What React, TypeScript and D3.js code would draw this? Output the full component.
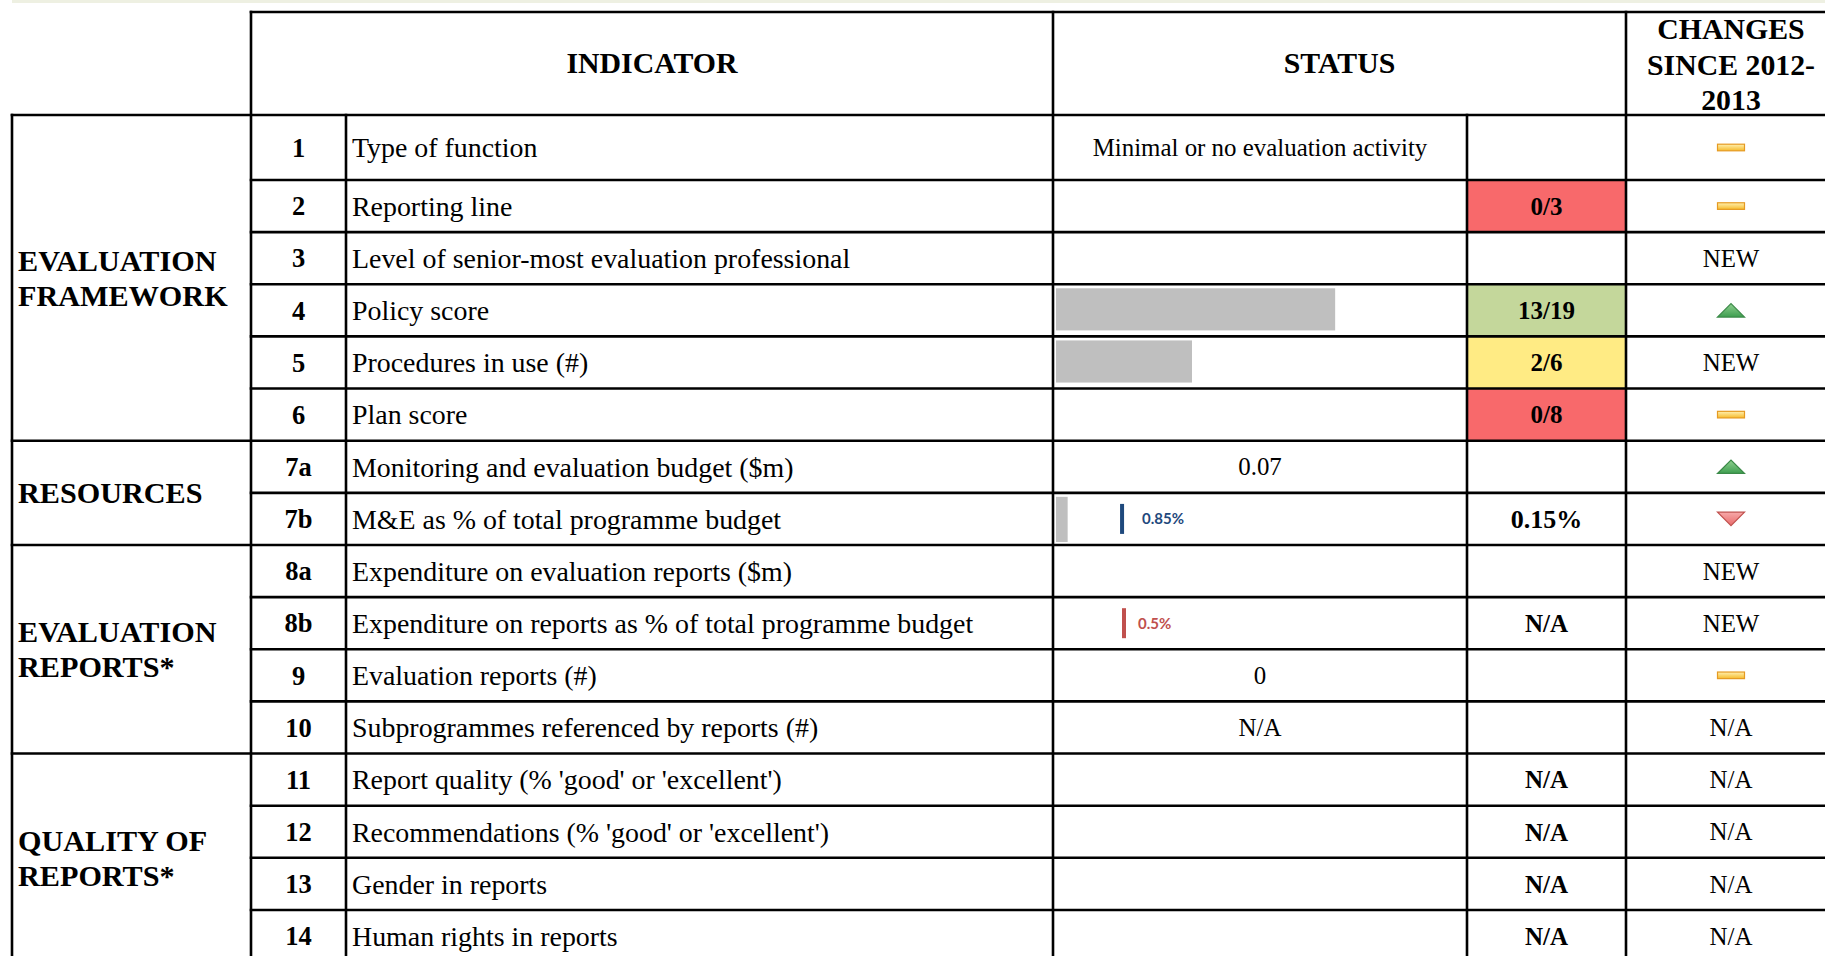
import React from "react";
import * as d3 from "d3";

const W = 1825;
const H = 956;

// group labels (left column) and how many rows each covers
const groupNames = [["EVALUATION", "FRAMEWORK"], ["RESOURCES"], ["EVALUATION", "REPORTS*"], ["QUALITY OF", "REPORTS*"]];
const groupSizes = [6, 2, 4, 4];

const rowIds = ["1", "2", "3", "4", "5", "6", "7a", "7b", "8a", "8b", "9", "10", "11", "12", "13", "14"];
const indicators = [
  "Type of function",
  "Reporting line",
  "Level of senior-most evaluation professional",
  "Policy score",
  "Procedures in use (#)",
  "Plan score",
  "Monitoring and evaluation budget ($m)",
  "M&E as % of total programme budget",
  "Expenditure on evaluation reports ($m)",
  "Expenditure on reports as % of total programme budget",
  "Evaluation reports (#)",
  "Subprogrammes referenced by reports (#)",
  "Report quality (% 'good' or 'excellent')",
  "Recommendations (% 'good' or 'excellent')",
  "Gender in reports",
  "Human rights in reports",
];
const statusText = ["Minimal or no evaluation activity", "", "", "", "", "", "0.07", "", "", "", "0", "N/A", "", "", "", ""];

// scores shown as fraction + data bar
const scoreRows = ["2", "4", "5", "6"];
const scoreNum = [0, 13, 2, 0];
const scoreDen = [3, 19, 6, 8];

// percentage bars and benchmark markers
const pctRows = ["7b"];
const pctValues = [0.15];
const benchRows = ["7b", "8b"];
const benchValues = [0.85, 0.5];
const benchMax = [5.25, 3];

const naRows = ["8b", "11", "12", "13", "14"];
const changes = ["same", "same", "NEW", "up", "NEW", "same", "up", "down", "NEW", "NEW", "same", "N/A", "N/A", "N/A", "N/A", "N/A"];

const serif = "'Liberation Serif', 'Times New Roman', serif";
const colX = [12, 251, 346, 1053, 1467, 1626, 1837];
const headTop = 12;
const headBottom = 115;
const line = 2.6;
const benchStyle = [
  { color: "#1f497d", gap: 20 },
  { color: "#c0504d", gap: 14 },
];

export default function App() {
  const y = d3.scaleLinear().domain([1, 16]).range([180, 180 + 15 * 52.14]);
  const top = (i: number) => (i === 0 ? headBottom : y(i));
  const bottom = (i: number) => y(i + 1);
  const mid = (i: number) => (top(i) + bottom(i)) / 2;
  const rowIdx = (id: string) => rowIds.indexOf(id);

  const barX = d3.scaleLinear().domain([0, 1]).range([colX[3] + 3, colX[4] - 3]);
  const scoreColor = d3.scaleThreshold<number, string>().domain([0.01, 0.5]).range(["#f8696b", "#ffeb84", "#c4d79b"]);
  const changeX = 1731;

  const tri = d3.line();
  const upPath = tri([[-13.5, 6.7], [13.5, 6.7], [0, -6.7]]) + "Z";
  const downPath = tri([[-13.5, -6.7], [13.5, -6.7], [0, 6.7]]) + "Z";

  // group boundaries
  let acc = 0;
  const groupStarts = groupSizes.map((s) => {
    const st = acc;
    acc += s;
    return st;
  });

  const vLines = [
    { x: colX[0], y1: headBottom },
    { x: colX[1], y1: headTop },
    { x: colX[2], y1: headBottom },
    { x: colX[3], y1: headTop },
    { x: colX[4], y1: headBottom },
    { x: colX[5], y1: headTop },
  ];

  return (
    <svg width={W} height={H} style={{ position: "absolute", left: 0, top: 0, background: "#fff" }}>
      <defs>
        <linearGradient id="gDash" x1="0" y1="0" x2="0" y2="1">
          <stop offset="0" stopColor="#fff0b0" />
          <stop offset="1" stopColor="#f6bb2c" />
        </linearGradient>
        <linearGradient id="gUp" x1="0" y1="0" x2="0" y2="1">
          <stop offset="0" stopColor="#8fd08f" />
          <stop offset="1" stopColor="#3e9e50" />
        </linearGradient>
        <linearGradient id="gDown" x1="0" y1="0" x2="0" y2="1">
          <stop offset="0" stopColor="#f7a9a9" />
          <stop offset="1" stopColor="#e86a6a" />
        </linearGradient>
      </defs>
      <rect x={12} y={0} width={W} height={3} fill="#eef0e2" />

      {/* score cells and bars */}
      {scoreRows.map((id, k) => {
        const i = rowIdx(id);
        const v = scoreNum[k] / scoreDen[k];
        return (
          <g key={id}>
            <rect x={colX[4]} y={top(i)} width={colX[5] - colX[4]} height={bottom(i) - top(i)} fill={scoreColor(v)} />
            {v > 0 && (
              <rect x={barX(0)} y={top(i) + 4} width={barX(v) - barX(0)} height={bottom(i) - top(i) - 10} fill="#bfbfbf" />
            )}
            <text x={(colX[4] + colX[5]) / 2} y={mid(i)} dy="0.35em" textAnchor="middle" fontFamily={serif} fontWeight="bold" fontSize={25}>
              {`${scoreNum[k]}/${scoreDen[k]}`}
            </text>
          </g>
        );
      })}

      {pctRows.map((id, k) => {
        const i = rowIdx(id);
        const s = d3.scaleLinear().domain([0, benchMax[benchRows.indexOf(id)]]).range(barX.range());
        return (
          <g key={id}>
            <rect x={s(0)} y={top(i) + 4} width={s(pctValues[k]) - s(0)} height={bottom(i) - top(i) - 7} fill="#bfbfbf" />
            <text x={(colX[4] + colX[5]) / 2} y={mid(i)} dy="0.35em" textAnchor="middle" fontFamily={serif} fontWeight="bold" fontSize={26}>
              {`${pctValues[k]}%`}
            </text>
          </g>
        );
      })}

      {benchRows.map((id, k) => {
        const i = rowIdx(id);
        const s = d3.scaleLinear().domain([0, benchMax[k]]).range(barX.range());
        const st = benchStyle[k];
        return (
          <g key={id}>
            <rect x={s(benchValues[k]) - 2} y={mid(i) - 15} width={4} height={30} fill={st.color} />
            <text x={s(benchValues[k]) + st.gap} y={mid(i)} dy="0.36em" fontFamily="Lato, 'Open Sans', sans-serif" fontWeight="bold" fontSize={15} fill={st.color}>
              {`${benchValues[k]}%`}
            </text>
          </g>
        );
      })}

      {/* grid lines */}
      <g stroke="#000" strokeWidth={line} strokeLinecap="square">
        <line x1={colX[1]} x2={colX[6]} y1={headTop} y2={headTop} />
        <line x1={colX[0]} x2={colX[6]} y1={headBottom} y2={headBottom} />
        {rowIds.map((id, i) => (
          <line key={id} x1={groupStarts.includes(i + 1) ? colX[0] : colX[1]} x2={colX[6]} y1={bottom(i)} y2={bottom(i)} />
        ))}
        {vLines.map((v) => (
          <line key={v.x} x1={v.x} x2={v.x} y1={v.y1} y2={H + 10} />
        ))}
      </g>

      {/* header */}
      <g fontFamily={serif} fontWeight="bold" fontSize={29.8} textAnchor="middle">
        <text x={(colX[1] + colX[3]) / 2} y={73}>INDICATOR</text>
        <text x={(colX[3] + colX[5]) / 2} y={73}>STATUS</text>
        {["CHANGES", "SINCE 2012-", "2013"].map((t, k) => (
          <text key={t} x={changeX} y={39 + k * 35.5}>{t}</text>
        ))}
      </g>

      {/* group labels */}
      <g fontFamily={serif} fontWeight="bold" fontSize={30.2}>
        {groupNames.map((lines, g) => {
          const st = groupStarts[g];
          const cy = (top(st) + bottom(st + groupSizes[g] - 1)) / 2;
          return lines.map((t, k) => (
            <text key={t + g} x={18} y={cy + (k - (lines.length - 1) / 2) * 35} dy="0.35em">{t}</text>
          ));
        })}
      </g>

      {/* rows */}
      {rowIds.map((id, i) => (
        <g key={id} fontFamily={serif}>
          <text x={(colX[1] + colX[2]) / 2} y={mid(i)} dy="0.35em" textAnchor="middle" fontWeight="bold" fontSize={26.5}>{id}</text>
          <text x={colX[2] + 6} y={mid(i)} dy="0.35em" fontSize={27.9}>{indicators[i]}</text>
          {statusText[i] && (
            <text x={(colX[3] + colX[4]) / 2} y={mid(i)} dy="0.35em" textAnchor="middle" fontSize={24.9}>{statusText[i]}</text>
          )}
          {naRows.includes(id) && (
            <text x={(colX[4] + colX[5]) / 2} y={mid(i)} dy="0.35em" textAnchor="middle" fontWeight="bold" fontSize={25}>N/A</text>
          )}
          {changes[i] === "same" && (
            <rect x={changeX - 13.5} y={mid(i) - 3.3} width={27} height={6.6} fill="url(#gDash)" stroke="#e59a22" strokeWidth={1.2} />
          )}
          {changes[i] === "up" && (
            <path d={upPath} transform={`translate(${changeX},${mid(i)})`} fill="url(#gUp)" stroke="#3b8a48" strokeWidth={1.2} />
          )}
          {changes[i] === "down" && (
            <path d={downPath} transform={`translate(${changeX},${mid(i)})`} fill="url(#gDown)" stroke="#c0504d" strokeWidth={1.2} />
          )}
          {(changes[i] === "NEW" || changes[i] === "N/A") && (
            <text x={changeX} y={mid(i)} dy="0.35em" textAnchor="middle" fontSize={24.9}>{changes[i]}</text>
          )}
        </g>
      ))}
    </svg>
  );
}
